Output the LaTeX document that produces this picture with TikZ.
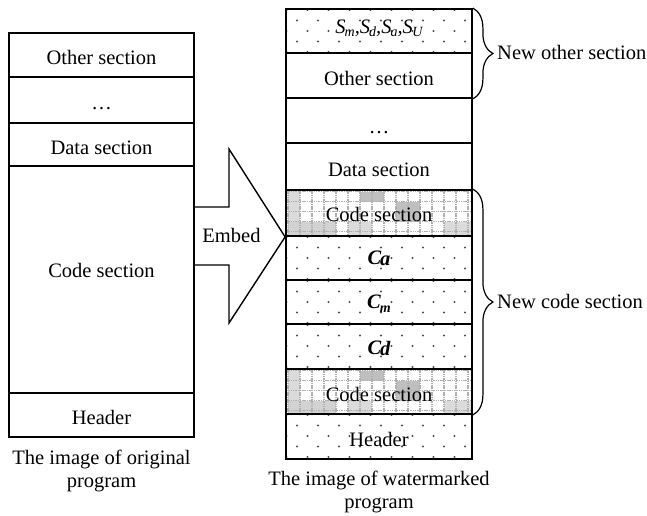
\documentclass[tikz,border=0pt]{standalone}
\usepackage{fontspec}
\setmainfont{Liberation Serif}
\usetikzlibrary{decorations.pathreplacing}
\newcommand\lsub[1]{\raisebox{-3.5pt}{\fontsize{14pt}{14pt}\selectfont #1}}
\newcommand\dotpat[1]{%
  \begin{scope}
    \clip (286,#1) rectangle (472,{#1+46});
    \foreach \j in {0,...,4}{
      \foreach \i in {0,...,9}{
        \fill[dotc] ({286.5+21*\i+10.5*mod(\j,2)},{#1+1+10.5*\j}) circle (1.2pt);
      }}
  \end{scope}}
\newcommand\codepat[1]{%
  \begin{scope}[shift={(0,#1)}]
    \clip (286,0) rectangle (472,46);
    \fill[gray!28] (288,0) rectangle (300,46);
    \fill[gray!50] (360,1.5) rectangle (384,11.5);
    \fill[gray!50] (396,11.5) rectangle (420,31.5);
    \fill[gray!35] (288,31.5) rectangle (336,46);
    \fill[gray!28] (348,31.5) rectangle (372,46);
    \fill[gray!28] (444,31.5) rectangle (472,46);
    \foreach \i in {0,...,15}{\draw[gridc] ({288+12*\i},0) -- ({288+12*\i},46);}
    \foreach \j in {0,...,4}{\draw[gridc] (286,{1.5+10*\j}) -- (472,{1.5+10*\j});}
  \end{scope}}
\begin{document}
\begin{tikzpicture}[x=1pt,y=-1pt,
  dotc/.style={gray!60!black},
  gridc/.style={draw=gray!62, line width=1.8pt, dash pattern=on 1.5pt off 0.8pt},
  txt/.style={font=\fontsize{20.5pt}{22.5pt}\selectfont, inner sep=0pt},
  lbox/.style={txt, draw=black, line width=1.3pt, minimum width=185pt,
    text height=19pt, text depth=0pt},
  rbox/.style={txt, draw=black, line width=1.8pt, minimum width=186pt,
    text height=19pt, text depth=0pt},
  cbox/.style={rbox, font=\fontsize{20.5pt}{22.5pt}\selectfont\bfseries\itshape,
    text height=12pt},
  bracestyle/.style={decorate, decoration={brace, amplitude=20pt}, line width=1.2pt},
  shapeline/.style={draw=black, line width=1.4pt, line join=miter}
]
\useasboundingbox (0,0) rectangle (647,515);

% patterns of the watermarked image
\dotpat{9}
\codepat{190}
\dotpat{236}
\dotpat{280}
\dotpat{324}
\codepat{369}
\dotpat{414}

% original program
\node[lbox, minimum height=44pt] (l1) at (101.5,55) {Other section};
\node[lbox, minimum height=46pt] (l2) at (101.5,100) {…};
\node[lbox, minimum height=43pt] (l3) at (101.5,144.5) {Data section};
\node[lbox, minimum height=227pt] (l4) at (101.5,279.5) {};
\node[txt, anchor=base] (l4t) at (101.5,277) {Code section};
\node[lbox, minimum height=44pt] (l5) at (101.5,415) {Header};
\node[txt, align=center, anchor=base] (lcap) at (101.5,487) {The image of original\\program};

% watermarked program
\node[rbox, minimum height=44pt, font=\fontsize{20.5pt}{22.5pt}\selectfont\itshape,
  text height=14pt, text depth=9.4pt] (r1) at (379,31)
  {S\kern-1pt\lsub{m},S\kern-1pt\lsub{d},S\kern-1pt\lsub{a},S\kern-0.5pt\lsub{U}};
\node[rbox, minimum height=45pt] (r2) at (379,75.5) {Other section};
\node[rbox, minimum height=45pt, text height=26pt] (r3) at (379,120.5) {…};
\node[rbox, minimum height=47pt] (r4) at (379,166.5) {Data section};
\node[rbox, minimum height=46pt, text height=17.4pt] (r5) at (379,213) {Code section};
\node[cbox, minimum height=44pt] (r6) at (379,258) {C\kern-1pt\raisebox{-1.5pt}{a}};
\node[cbox, minimum height=44pt] (r7) at (379,302) {C\kern-1pt\raisebox{-4pt}{\fontsize{14pt}{14pt}\selectfont m}};
\node[cbox, minimum height=45pt, text height=15pt] (r8) at (379,346.5) {C\kern-1pt\raisebox{-1pt}{d}};
\node[rbox, minimum height=45pt] (r9) at (379,391.5) {Code section};
\node[rbox, minimum height=45pt, text height=20.4pt] (r10) at (379,436.5) {Header};
\node[txt, align=center, anchor=base] (rcap) at (379,508) {The image of watermarked\\program};

% embed arrow
\draw[shapeline] (l4.east |- 0,207) -- (229,207) -- (229,149) -- (r5.south west)
  -- (229,323) -- (229,265) -- (l4.east |- 0,265);
\node[txt, anchor=base] (embed) at (231.5,242.7) {Embed};

% braces
\draw[bracestyle] (r1.north east) -- (r2.south east);
\draw[bracestyle] (r5.north east) -- (r9.south east);
\node[txt, anchor=base west] (newother) at (497,59.3) {New other section};
\node[txt, anchor=base west] (newcode) at (497,308) {New code section};
\end{tikzpicture}
\end{document}
